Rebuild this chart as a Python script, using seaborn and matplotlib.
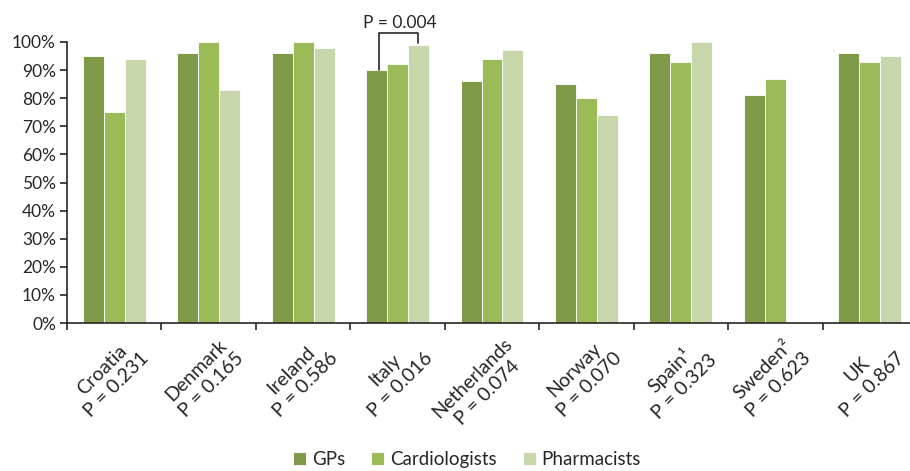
import numpy as np
import pandas as pd
import seaborn as sns
import matplotlib.pyplot as plt
import matplotlib.transforms as mtransforms
from matplotlib.ticker import FixedLocator, PercentFormatter

countries = ["Croatia", "Denmark", "Ireland", "Italy", "Netherlands",
             "Norway", "Spain\u00b9", "Sweden\u00b2", "UK"]
p_values = ["0.231", "0.165", "0.586", "0.016", "0.074",
            "0.070", "0.323", "0.623", "0.867"]
groups = ["GPs", "Cardiologists", "Pharmacists"]
gps = [95, 96, 96, 90, 86, 85, 96, 81, 96]
cardiologists = [75, 100, 100, 92, 94, 80, 93, 87, 93]
pharmacists = [94, 83, 98, 99, 97, 74, 100, np.nan, 95]
colors = ["#7f9a48", "#9bbb59", "#c7d6ab"]

df = pd.DataFrame({"Country": countries, "GPs": gps,
                   "Cardiologists": cardiologists, "Pharmacists": pharmacists})
long_df = df.melt(id_vars="Country", var_name="Group", value_name="Pct").dropna()

sns.set_style("white")
plt.rcParams["font.family"] = ["Lato", "DejaVu Sans"]

fig = plt.figure(figsize=(9.1, 4.71), dpi=100)
ax = fig.add_axes([67 / 910, 148 / 471, 850 / 910, 281 / 471])

sns.barplot(data=long_df, x="Country", y="Pct", hue="Group", order=countries,
            hue_order=groups, palette=colors, width=0.667, saturation=1,
            edgecolor="white", linewidth=0.6, ax=ax)

ax.set_xlim(-0.5, len(countries) - 0.5)
ax.set_ylim(0, 100)
ax.set_yticks(range(0, 101, 10))
ax.yaxis.set_major_formatter(PercentFormatter(decimals=0))
ax.set_xlabel("")
ax.set_ylabel("")

for s in ["top", "right"]:
    ax.spines[s].set_visible(False)
for s in ["left", "bottom"]:
    ax.spines[s].set_color("#262626")
    ax.spines[s].set_linewidth(1.2)

ax.tick_params(axis="y", left=True, length=5, width=1.2, color="#262626",
               labelsize=12.5, pad=3)
ax.tick_params(axis="x", which="major", length=0, pad=4)
ax.xaxis.set_minor_locator(FixedLocator(np.arange(-0.5, len(countries), 1)))
ax.tick_params(axis="x", which="minor", bottom=True, length=5, width=1.2,
               color="#262626")

labels = [f"{c}\nP = {p}" for c, p in zip(countries, p_values)]
ax.set_xticks(range(len(countries)))
ax.set_xticklabels(labels, rotation=45, ha="right", va="top",
                   rotation_mode="anchor", multialignment="center",
                   fontsize=14, linespacing=1.3)
shift = mtransforms.ScaledTranslation(0.11, -0.06, fig.dpi_scale_trans)
for lab in ax.get_xticklabels():
    lab.set_transform(lab.get_transform() + shift)

# bracket for Italy GPs vs Pharmacists
italy = countries.index("Italy")
x_left, x_right = italy - 0.2, italy + 0.22
ax.plot([x_left, x_left, x_right, x_right], [90, 103.2, 103.2, 99.6],
        color="#262626", lw=1.2, clip_on=False)
ax.text(italy + 0.02, 104, "P = 0.004", ha="center", va="bottom", fontsize=12.5)

ax.legend(loc="center", bbox_to_anchor=(0.4706, -0.487),
          ncol=3, frameon=False, fontsize=13.5, handlelength=0.7,
          handleheight=0.7, handletextpad=0.3, columnspacing=1.4)

fig.savefig("out.png", dpi=100)
